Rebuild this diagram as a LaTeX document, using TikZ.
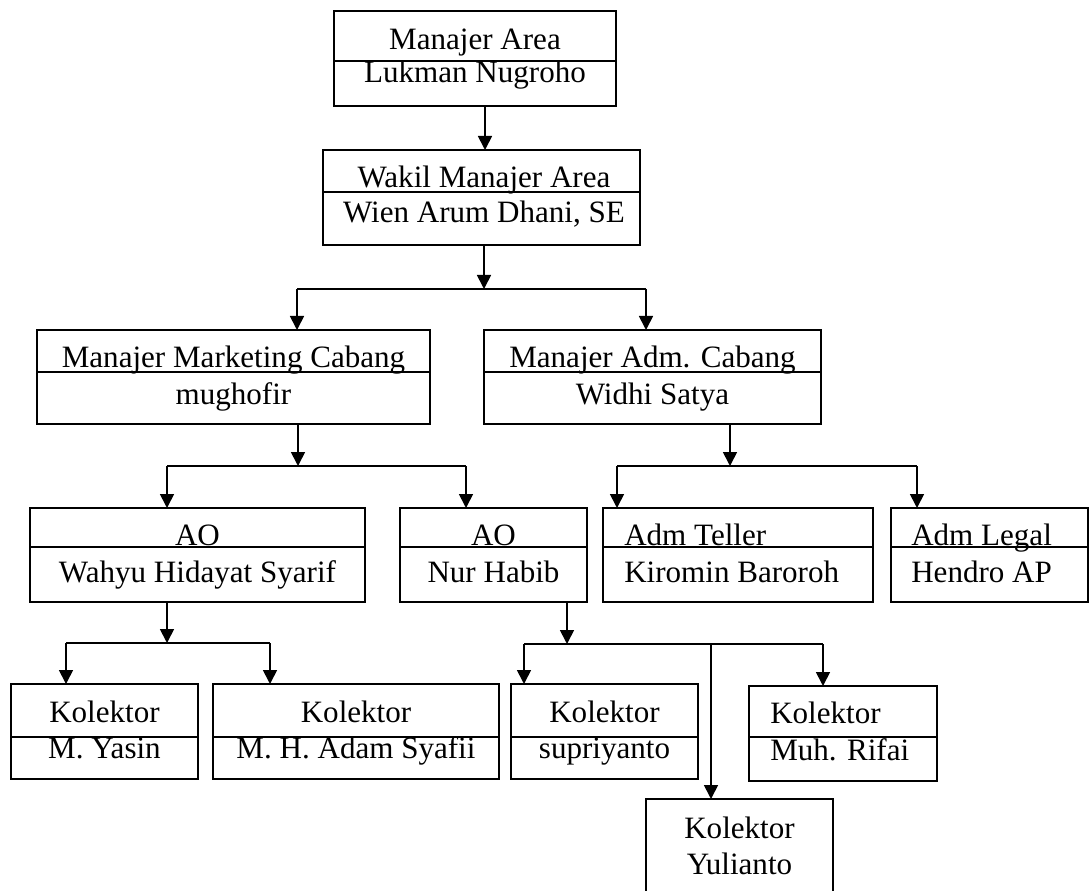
\documentclass[tikz,border=0pt]{standalone}
\usepackage{fontspec}
\setmainfont{Liberation Serif}
\usetikzlibrary{arrows.meta}
\newcommand{\orgbox}[5]{\node[orgrect, minimum width={(#4-#2)*0.75pt}, minimum height={(#5-#3)*0.75pt}] (#1) at ({(#2+#4)/2},{(#3+#5)/2}) {};}
\begin{document}
\begin{tikzpicture}[x=0.75pt,y=-0.75pt,
  orgrect/.style={draw, rectangle, line width=1.3pt, inner sep=0pt, outer sep=0pt},
  ln/.style={line width=1.3pt},
  arr/.style={line width=1.3pt, -{Triangle[width=10.5pt,length=10.5pt]}},
  txt/.style={inner sep=0pt, anchor=base, font=\fontsize{23.3}{27}\selectfont},
  txtl/.style={txt, anchor=base west}]
\useasboundingbox (0,0) rectangle (1089,891);
\clip (0,0) rectangle (1089,891);
\fill[white] (0,0) rectangle (1089,891);
% boxes
\orgbox{top}{334}{11}{616}{106}
\orgbox{wakil}{323}{150}{640}{245}
\orgbox{mmc}{37}{330}{430}{424}
\orgbox{mac}{484}{330}{821}{424}
\orgbox{aoa}{30}{508}{365}{602}
\orgbox{aob}{400}{508}{587}{602}
\orgbox{teller}{603}{508}{873}{602}
\orgbox{legal}{891}{508}{1088}{602}
\orgbox{ka}{11}{684}{198}{779}
\orgbox{kb}{213}{684}{499}{779}
\orgbox{kc}{511}{684}{698}{779}
\orgbox{kd}{749}{686}{937}{781}
\orgbox{ke}{646}{799}{833}{900}
% dividers
\draw[ln] (334,61) -- (616,61);
\draw[ln] (323,192) -- (640,192);
\draw[ln] (37,372) -- (430,372);
\draw[ln] (484,372) -- (821,372);
\draw[ln] (30,547) -- (365,547);
\draw[ln] (400,547) -- (587,547);
\draw[ln] (603,547) -- (873,547);
\draw[ln] (891,547) -- (1088,547);
\draw[ln] (11,737) -- (198,737);
\draw[ln] (213,737) -- (499,737);
\draw[ln] (511,737) -- (698,737);
\draw[ln] (749,737) -- (937,737);
% texts
\node[txt] (t1) at (475,50) {Manajer Area};
\node[txt] (t2) at (475,83) {Lukman Nugroho};
\node[txt] (t3) at (484,188) {Wakil Manajer Area};
\node[txt] (t4) at (484,223) {Wien Arum Dhani, SE};
\node[txt] (t5) at (233.5,368) {Manajer Marketing Cabang};
\node[txt] (t6) at (233.5,404) {mughofir};
\node[txt] (t7) at (652.5,368) {Manajer Adm. Cabang};
\node[txt] (t8) at (652.5,404) {Widhi Satya};
\node[txt] (t9) at (197.5,545) {AO};
\node[txt] (t10) at (197.5,582) {Wahyu Hidayat Syarif};
\node[txt] (t11) at (493.5,545) {AO};
\node[txt] (t12) at (493.5,582) {Nur Habib};
\node[txtl] (t13) at (624,545) {Adm Teller};
\node[txtl] (t14) at (624,582) {Kiromin Baroroh};
\node[txtl] (t15) at (911,545) {Adm Legal};
\node[txtl] (t16) at (911,582) {Hendro AP};
\node[txt] (t17) at (104.5,722.5) {Kolektor};
\node[txt] (t18) at (104.5,758) {M. Yasin};
\node[txt] (t19) at (356,722.5) {Kolektor};
\node[txt] (t20) at (356,758) {M. H. Adam Syafii};
\node[txt] (t21) at (604.5,722.5) {Kolektor};
\node[txt] (t22) at (604.5,758) {supriyanto};
\node[txtl] (t23) at (770,723.5) {Kolektor};
\node[txtl] (t24) at (770,760) {Muh. Rifai};
\node[txt] (t25) at (739.5,838) {Kolektor};
\node[txt] (t26) at (739.5,874) {Yulianto};
% connectors
\coordinate (c0) at (485,0);
\draw[arr] (top.south -| c0) -- (wakil.north -| c0);
% level 2 split
\coordinate (j1) at (484,289);
\coordinate (j1l) at (297,289);
\coordinate (j1r) at (646,289);
\draw[arr] (wakil.south -| j1) -- (j1);
\draw[ln] (j1l) -- (j1r);
\draw[arr] (j1l) -- (j1l |- mmc.north);
\draw[arr] (j1r) -- (j1r |- mac.north);
% mmc split
\coordinate (j2) at (298,466);
\coordinate (j2l) at (167,466);
\coordinate (j2r) at (466,466);
\draw[arr] (mmc.south -| j2) -- (j2);
\draw[ln] (j2l) -- (j2r);
\draw[arr] (j2l) -- (j2l |- aoa.north);
\draw[arr] (j2r) -- (j2r |- aob.north);
% mac split
\coordinate (j3) at (730,466);
\coordinate (j3l) at (617,466);
\coordinate (j3r) at (917,466);
\draw[arr] (mac.south -| j3) -- (j3);
\draw[ln] (j3l) -- (j3r);
\draw[arr] (j3l) -- (j3l |- teller.north);
\draw[arr] (j3r) -- (j3r |- legal.north);
% ao1 split
\coordinate (j4) at (167,643);
\coordinate (j4l) at (66,643);
\coordinate (j4r) at (270,643);
\draw[arr] (aoa.south -| j4) -- (j4);
\draw[ln] (j4l) -- (j4r);
\draw[arr] (j4l) -- (j4l |- ka.north);
\draw[arr] (j4r) -- (j4r |- kb.north);
% ao2 split
\coordinate (j5) at (567,644);
\coordinate (j5l) at (524,644);
\coordinate (j5m) at (711,644);
\coordinate (j5r) at (823,644);
\draw[arr] (aob.south -| j5) -- (j5);
\draw[ln] (j5l) -- (j5r);
\draw[arr] (j5l) -- (j5l |- kc.north);
\draw[arr] (j5r) -- (j5r |- kd.north);
\draw[arr] (j5m) -- (j5m |- ke.north);
\end{tikzpicture}
\end{document}
